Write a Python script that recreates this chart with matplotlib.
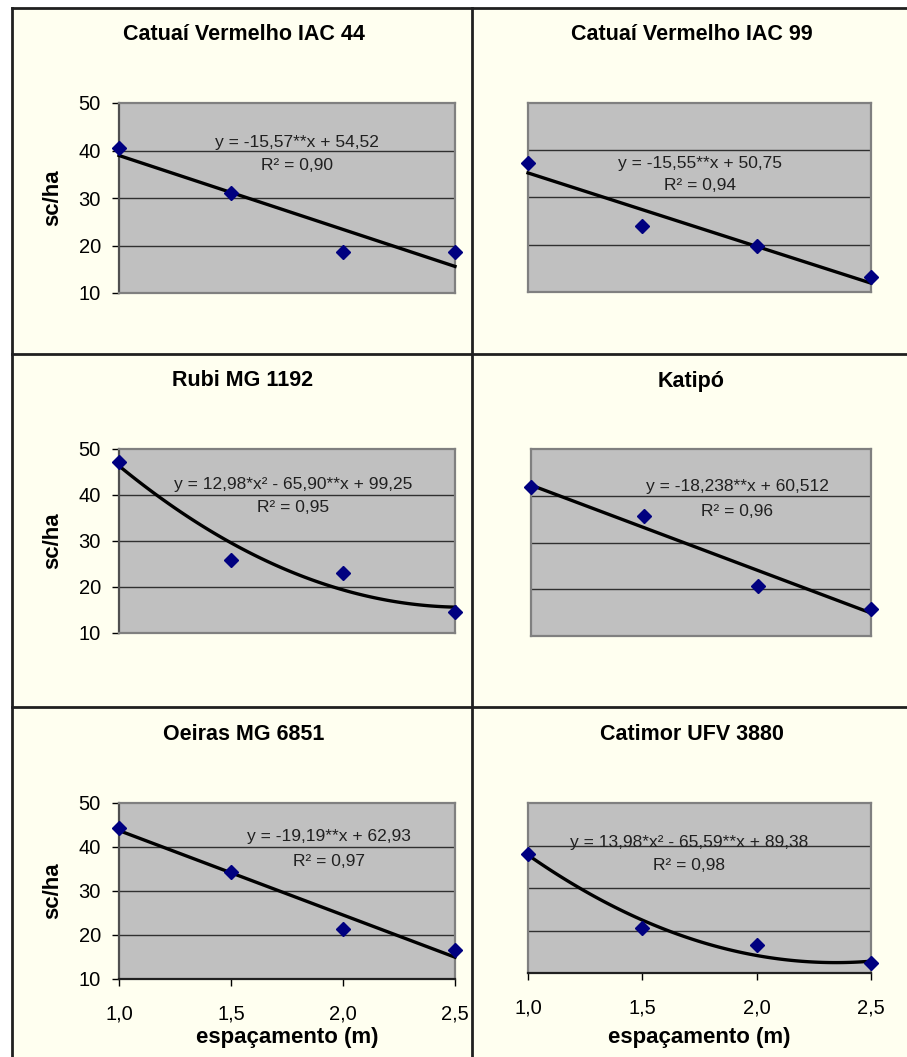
import matplotlib
matplotlib.use("Agg")
import matplotlib.pyplot as plt
import numpy as np
from matplotlib.patches import Rectangle
from matplotlib.lines import Line2D

plt.rcParams['font.family'] = ['Liberation Sans', 'DejaVu Sans']

# ---- data ----
spacing = [1.0, 1.5, 2.0, 2.5]
x_tick_labels = ["1,0", "1,5", "2,0", "2,5"]
y_ticks = [10, 20, 30, 40, 50]

titles = ["Catuaí Vermelho IAC 44", "Catuaí Vermelho IAC 99", "Rubi MG 1192",
          "Katipó", "Oeiras MG 6851", "Catimor UFV 3880"]

yield_iac44 = [40.6, 31.0, 18.7, 18.7]
yield_iac99 = [37.3, 24.0, 19.8, 13.1]
yield_rubi = [47.2, 25.9, 23.0, 14.5]
yield_katipo = [41.8, 35.7, 20.7, 15.8]
yield_oeiras = [44.4, 34.4, 21.4, 16.6]
yield_catimor = [38.0, 20.6, 16.6, 12.3]

# trend coefficients (highest power first)
coef_iac44 = [-15.57, 54.52]
coef_iac99 = [-15.55, 50.75]
coef_rubi = [12.98, -65.90, 99.25]
coef_katipo = [-18.238, 60.512]
coef_oeiras = [-19.19, 62.93]
coef_catimor = [13.98, -65.59, 89.38]

equations = ["y = -15,57**x + 54,52", "y = -15,55**x + 50,75",
             "y = 12,98*x² - 65,90**x + 99,25", "y = -18,238**x + 60,512",
             "y = -19,19**x + 62,93", "y = 13,98*x² - 65,59**x + 89,38"]
r2_labels = ["R² = 0,90", "R² = 0,94", "R² = 0,95", "R² = 0,96", "R² = 0,97", "R² = 0,98"]

ylabel = "sc/ha"
xlabel = "espaçamento (m)"

series = [yield_iac44, yield_iac99, yield_rubi, yield_katipo, yield_oeiras, yield_catimor]
coefs = [coef_iac44, coef_iac99, coef_rubi, coef_katipo, coef_oeiras, coef_catimor]

# ---- layout (pixels) ----
W, H = 907, 1057
axes_px = [(119, 103, 455, 293), (528, 103, 871, 292),
           (119, 449, 455, 633), (531, 449, 871, 636),
           (119, 803, 455, 979), (528, 803, 871, 973)]
title_px = [(244, 34), (692, 34), (243, 381), (691, 381), (244, 734), (692, 734)]
eq_px = [(297, 142, 165), (700, 163, 185), (293, 484, 508),
         (737, 487, 511), (329, 837, 861), (689, 842, 865)]
ylabel_px = [(53, 198), (53, 541), (53, 891)]

fig = plt.figure(figsize=(W / 100, H / 100), dpi=100)
fig.patch.set_facecolor('white')

def fx(x):
    return x / W

def fy(y):
    return 1 - y / H

# cream background and frame
fig.patches.append(Rectangle((fx(11), 0), 1 - fx(11), fy(7), transform=fig.transFigure,
                             facecolor='#FFFFF0', edgecolor='none', zorder=-10))
frame_kw = dict(transform=fig.transFigure, color='#202020', lw=2, zorder=-5)
fig.lines.append(Line2D([fx(12), 1], [fy(8), fy(8)], **frame_kw))
fig.lines.append(Line2D([fx(12), fx(12)], [fy(8), 0], **frame_kw))
fig.lines.append(Line2D([fx(471.5), fx(471.5)], [fy(8), 0], **frame_kw))
fig.lines.append(Line2D([fx(12), 1], [fy(353.5), fy(353.5)], **frame_kw))
fig.lines.append(Line2D([fx(12), 1], [fy(707), fy(707)], **frame_kw))

for i, (vals, cf) in enumerate(zip(series, coefs)):
    l, t, r, b = axes_px[i]
    ax = fig.add_axes([fx(l), fy(b), (r - l) / W, (b - t) / H])
    ax.set_facecolor('#C0C0C0')
    ax.set_xlim(1.0, 2.5)
    ax.set_ylim(10, 50)
    for yv in y_ticks[1:-1]:
        ax.axhline(yv, color='#303030', lw=1.0, zorder=1)
    for s in ax.spines.values():
        s.set_color('#808080')
        s.set_linewidth(1.6)
    xx = np.linspace(1.0, 2.5, 100)
    ax.plot(xx, np.polyval(cf, xx), color='black', lw=2.4, zorder=3, clip_on=False)
    ax.plot(spacing, vals, linestyle='none', marker='D', color='#000080',
            markersize=7.5, zorder=4, clip_on=False)
    left_col = (i % 2 == 0)
    bottom_row = (i >= 4)
    if left_col:
        ax.set_yticks(y_ticks)
        ax.set_yticklabels([str(v) for v in y_ticks])
        ax.tick_params(axis='y', direction='out', length=5, width=1, color='black',
                       pad=8, labelsize=14.5)
        ax.spines['left'].set_color('#505050')
    else:
        ax.set_yticks([])
    if bottom_row:
        ax.set_xticks(spacing)
        ax.set_xticklabels(x_tick_labels)
        ax.tick_params(axis='x', direction='out', length=5, width=1, color='black',
                       pad=13, labelsize=14.5)
        ax.spines['bottom'].set_color('#202020')
        fig.text(fx((l + r) / 2), fy(1038), xlabel, ha='center', va='center',
                 fontsize=16, fontweight='bold')
    else:
        ax.set_xticks([])
    tx, ty = title_px[i]
    fig.text(fx(tx), fy(ty), titles[i], ha='center', va='center', fontsize=15.5,
             fontweight='bold')
    ex, ey1, ey2 = eq_px[i]
    fig.text(fx(ex), fy(ey1), equations[i], ha='center', va='center', fontsize=12.5,
             color='#202020', zorder=5)
    fig.text(fx(ex), fy(ey2), r2_labels[i], ha='center', va='center', fontsize=12.5,
             color='#202020', zorder=5)

for (lx, ly) in ylabel_px:
    fig.text(fx(lx), fy(ly), ylabel, ha='center', va='center', rotation=90,
             fontsize=16, fontweight='bold')

fig.savefig('out.png', dpi=100, facecolor=fig.get_facecolor())
